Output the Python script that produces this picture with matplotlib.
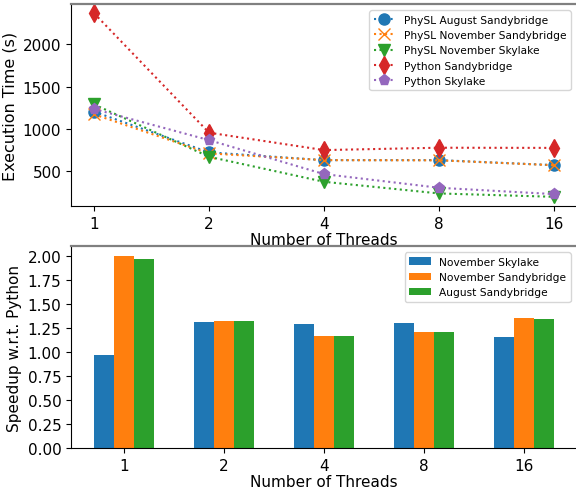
import matplotlib
matplotlib.use('Agg')
import matplotlib.pyplot as plt
import numpy as np

threads = [1, 2, 4, 8, 16]
thread_labels = ['1', '2', '4', '8', '16']

# execution time (s)
physl_aug_sb = [1204, 722, 630, 630, 571]
physl_nov_sb = [1172, 710, 630, 628, 570]
physl_nov_sl = [1290, 670, 374, 236, 196]
python_sb = [2369, 955, 749, 777, 775]
python_sl = [1235, 867, 465, 303, 228]

# speedup w.r.t. python
speed_nov_sl = [0.97, 1.316, 1.295, 1.305, 1.16]
speed_nov_sb = [2.003, 1.326, 1.170, 1.212, 1.357]
speed_aug_sb = [1.972, 1.326, 1.170, 1.212, 1.347]

W, H = 576, 489
fig = plt.figure(figsize=(W / 100, H / 100), dpi=100)
ax1 = fig.add_axes([71 / W, 1 - 207 / H, 506 / W, 202 / H])
ax2 = fig.add_axes([71 / W, 1 - 449.3 / H, 506 / W, 202.3 / H])

ms = 8
ax1.plot(threads, physl_aug_sb, ':', marker='o', ms=ms, color='C0', label='PhySL August Sandybridge')
ax1.plot(threads, physl_nov_sb, ':', marker='x', ms=ms, color='C1', label='PhySL November Sandybridge')
ax1.plot(threads, physl_nov_sl, ':', marker='v', ms=ms, color='C2', label='PhySL November Skylake')
ax1.plot(threads, python_sb, ':', marker='d', ms=ms + 1, color='C3', label='Python Sandybridge')
ax1.plot(threads, python_sl, ':', marker='p', ms=ms, color='C4', label='Python Skylake')
ax1.set_xscale('log', base=2)
ax1.set_xticks(threads)
ax1.set_xticklabels(thread_labels)
ax1.minorticks_off()
ax1.set_yticks([500, 1000, 1500, 2000])
ax1.set_xlabel('Number of Threads', fontsize=11, labelpad=1)
ax1.set_ylabel('Execution Time (s)', fontsize=11.5)
ax1.tick_params(labelsize=11)
ax1.legend(loc='upper right', fontsize=7.7, borderaxespad=0.6)

x = np.arange(len(threads))
w = 0.2
ax2.bar(x - w, speed_nov_sl, w, color='C0', label='November Skylake')
ax2.bar(x, speed_nov_sb, w, color='C1', label='November Sandybridge')
ax2.bar(x + w, speed_aug_sb, w, color='C2', label='August Sandybridge')
ax2.set_xticks(x)
ax2.set_xticklabels(thread_labels)
ax2.set_yticks(np.arange(0, 2.01, 0.25))
ax2.set_xlabel('Number of Threads', fontsize=11, labelpad=1)
ax2.set_ylabel('Speedup w.r.t. Python', fontsize=11)
ax2.tick_params(labelsize=11)
ax2.legend(loc='upper right', fontsize=7.7, borderaxespad=0.6)

for ax in (ax1, ax2):
    ax.spines['right'].set_visible(False)
    ax.spines['top'].set_color('gray')
    ax.spines['top'].set_linewidth(1.6)

fig.savefig('out.png', dpi=100)
